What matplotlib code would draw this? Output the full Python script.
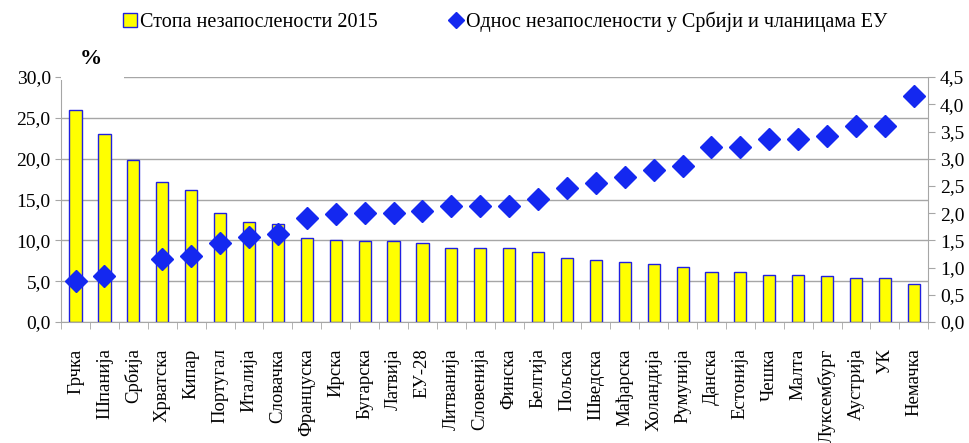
import numpy as np
import matplotlib.pyplot as plt
from matplotlib.lines import Line2D
from matplotlib.ticker import FuncFormatter, FixedLocator

countries = ['Грчка', 'Шпанија', 'Србија', 'Хрватска', 'Кипар', 'Португал', 'Италија',
             'Словачка', 'Француска', 'Ирска', 'Бугарска', 'Латвија', 'ЕУ-28', 'Литванија',
             'Словенија', 'Финска', 'Белгија', 'Пољска', 'Шведска', 'Мађарска', 'Холандија',
             'Румунија', 'Данска', 'Естонија', 'Чешка', 'Малта', 'Луксембург', 'Аустрија',
             'УК', 'Немачка']
rate_2015 = [26.0, 23.0, 19.8, 17.1, 16.2, 13.4, 12.3, 12.0, 10.3, 10.0, 9.9, 9.9, 9.7, 9.1,
             9.1, 9.1, 8.6, 7.9, 7.6, 7.3, 7.1, 6.8, 6.1, 6.1, 5.8, 5.8, 5.6, 5.4, 5.4, 4.7]
ratio = [0.75, 0.84, None, 1.15, 1.21, 1.45, 1.57, 1.62, 1.91, 1.98, 2.0, 2.0, 2.04, 2.14,
         2.14, 2.14, 2.26, 2.47, 2.56, 2.66, 2.79, 2.87, 3.21, 3.21, 3.36, 3.36, 3.42, 3.61,
         3.61, 4.15]

plt.rcParams['font.family'] = ['Liberation Serif', 'DejaVu Serif']
grid_c = '#a6a6a6'
blue = '#1428f0'

fig = plt.figure(figsize=(9.7, 4.43), dpi=100)
ax = fig.add_axes([0.063, 0.273, 0.894, 0.553])
x = np.arange(len(countries))
ax.bar(x, rate_2015, width=0.42, color='#ffff00', edgecolor='#2020e0', linewidth=1.0, zorder=3)
ax.set_xlim(-0.5, len(countries) - 0.5)
ax.set_ylim(0, 30)
ax.set_yticks(np.arange(0, 30.1, 5))
ax.yaxis.set_major_formatter(FuncFormatter(lambda v, p: ('%.1f' % v).replace('.', ',')))
ax.grid(axis='y', color=grid_c, linewidth=1.0, zorder=0)
ax.set_xticks(x)
ax.set_xticklabels(countries, rotation=90, fontsize=13.5)
ax.xaxis.set_minor_locator(FixedLocator(np.arange(-0.5, len(countries), 1)))
ax.tick_params(axis='x', which='major', length=0, pad=19)
ax.tick_params(axis='x', which='minor', length=5, color=grid_c)
ax.tick_params(axis='y', labelsize=14, length=4, color=grid_c)
for s in ['top', 'right']:
    ax.spines[s].set_visible(False)
for s in ['left', 'bottom']:
    ax.spines[s].set_color(grid_c)

ax2 = ax.twinx()
xr = [i for i, r in enumerate(ratio) if r is not None]
yr = [r for r in ratio if r is not None]
ax2.plot(xr, yr, linestyle='none', marker='D', markersize=11, color=blue, zorder=4)
ax2.set_ylim(0, 4.5)
ax2.set_yticks(np.arange(0, 4.51, 0.5))
ax2.yaxis.set_major_formatter(FuncFormatter(lambda v, p: ('%.1f' % v).replace('.', ',')))
ax2.tick_params(axis='y', labelsize=14, length=5, color=grid_c)
for s in ['top', 'left', 'bottom']:
    ax2.spines[s].set_visible(False)
ax2.spines['right'].set_color(grid_c)

fig.text(0.082, 0.845, '%', fontsize=16, fontweight='bold', ha='left', va='bottom',
         bbox=dict(facecolor='white', edgecolor='none', pad=4,
                   boxstyle='square,pad=0.15'))
fig.patches.append(plt.Rectangle((0.063, 0.82), 0.065, 0.012, transform=fig.transFigure,
                                 facecolor='white', edgecolor='none', zorder=10))

handles = [Line2D([], [], linestyle='none', marker='s', markersize=10, markerfacecolor='#ffff00',
                  markeredgecolor='#2020e0'),
           Line2D([], [], linestyle='none', marker='D', markersize=8, color=blue)]
fig.legend(handles, ['Стопа незапослености 2015', 'Однос незапослености у Србији и чланицама ЕУ'],
           loc='upper center', bbox_to_anchor=(0.52, 1.015), ncol=2, frameon=False, fontsize=14.5,
           handletextpad=0.1, columnspacing=3.5, handlelength=0.8)

plt.savefig('out.png', dpi=100)
